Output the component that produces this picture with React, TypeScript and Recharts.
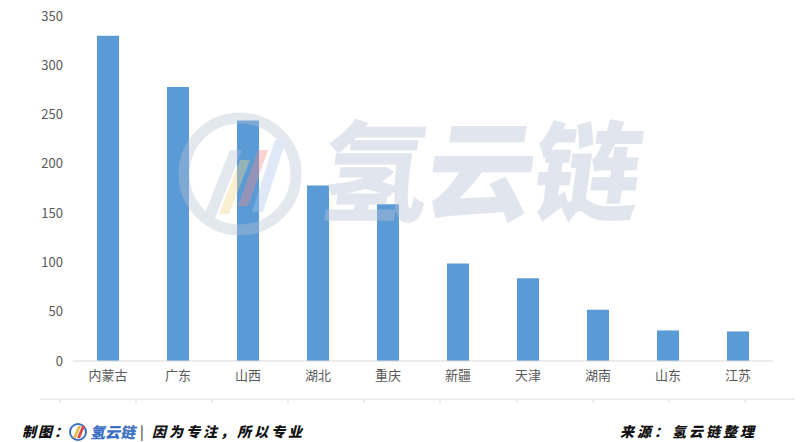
import React from 'react';
import { BarChart, Bar, XAxis, YAxis } from 'recharts';

const provinces = ['内蒙古', '广东', '山西', '湖北', '重庆', '新疆', '天津', '湖南', '山东', '江苏'];
const counts = [330, 278, 244, 178, 159, 99, 84, 52, 31, 30];
const yTicks = [0, 50, 100, 150, 200, 250, 300, 350];

const data = provinces.map((name, i) => ({ name, value: counts[i] }));

const FONT = '"Noto Sans CJK SC", "Noto Sans", sans-serif';

const Watermark = () => (
  <svg width={800} height={442} style={{ position: 'absolute', left: 0, top: 0, pointerEvents: 'none' }}>
    <g opacity={0.38}>
      <circle cx={240} cy={174} r={56} fill="none" stroke="#b7c1d3" strokeWidth={11} />
      <polygon points="203,218 230,150 242,150 215,218" fill="#b7c1d3" />
      <polygon points="219,214 240,160 250,160 229,214" fill="#f0d98a" />
      <polygon points="238,206 258,150 268,150 248,206" fill="#f08a8a" />
      <polygon points="252,212 275,140 286,140 263,212" fill="#a9c3e8" />
    </g>
    <text x={318} y={212} fontSize={108} fontWeight={900} fill="#b9c4d8" opacity={0.42}
      fontFamily={FONT} transform="skewX(-8) translate(28,0)" letterSpacing={-2}>
      氢云链
    </text>
    <line x1={40} y1={399} x2={795} y2={399} stroke="#dcdcdc" strokeWidth={1} />
    {[60, 136, 212, 288, 364, 440, 517, 593, 669, 745].map((x) => (
      <line key={x} x1={x} y1={399} x2={x} y2={403} stroke="#dcdcdc" strokeWidth={1} />
    ))}
    <g fontFamily={FONT} fontWeight={900} fontStyle="italic" fontSize={14} fill="#111">
      <text x={22} y={437} letterSpacing={2}>制图：</text>
      <circle cx={78} cy={432} r={8} fill="none" stroke="#3b6fc4" strokeWidth={2} />
      <polygon points="73,438 78,426 81,426 76,438" fill="#e8b84a" />
      <polygon points="77,438 82,426 85,426 80,438" fill="#d9454a" />
      <text x={90} y={438} fill="#3b6fc4" fontSize={15} letterSpacing={0}>氢云链</text>
      <text x={140} y={437} fontWeight={400} fontStyle="normal">|</text>
      <text x={152} y={437} letterSpacing={3}>因为专注，所以专业</text>
      <text x={620} y={437} letterSpacing={3}>来源：</text>
      <text x={672} y={437} letterSpacing={3}>氢云链整理</text>
    </g>
  </svg>
);

export default function App() {
  return (
    <div style={{ position: 'absolute', left: 0, top: 0, width: 800, height: 442, background: '#fff', overflow: 'hidden' }}>
      <BarChart width={800} height={442} data={data} margin={{ top: 16, right: 27, bottom: 51, left: 0 }}>
        <XAxis
          dataKey="name"
          axisLine={{ stroke: '#d9d9d9' }}
          tickLine={false}
          tick={{ fontSize: 13, fill: '#595959', fontFamily: FONT }}
          tickMargin={4}
          interval={0}
        />
        <YAxis
          width={73}
          domain={[0, 350]}
          ticks={yTicks}
          axisLine={false}
          tickLine={false}
          tick={{ fontSize: 13, fill: '#595959', fontFamily: FONT }}
          tickMargin={4}
        />
        <Bar dataKey="value" fill="#5b9bd5" barSize={22} isAnimationActive={false} />
      </BarChart>
      <Watermark />
    </div>
  );
}
